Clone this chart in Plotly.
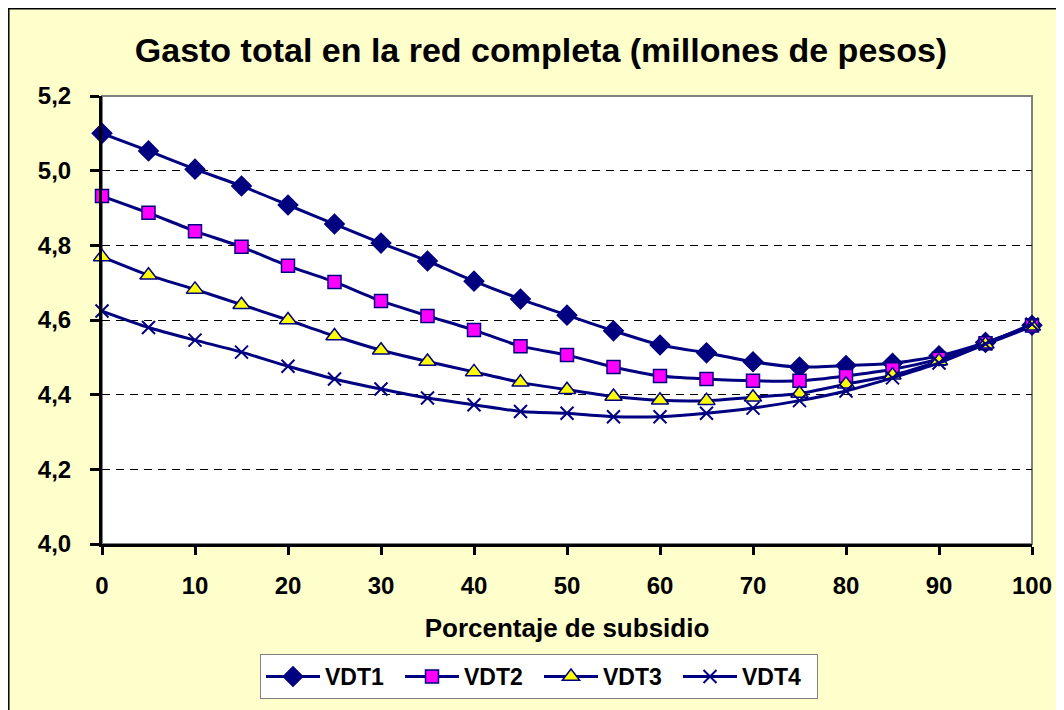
import plotly.graph_objects as go

x_vals = [0, 5, 10, 15, 20, 25, 30, 35, 40, 45, 50, 55, 60, 65, 70, 75, 80, 85, 90, 95, 100]
vdt1 = [5.100, 5.053, 5.004, 4.959, 4.908, 4.857, 4.806, 4.758, 4.704, 4.656, 4.613, 4.571, 4.533, 4.512, 4.488, 4.474, 4.478, 4.484, 4.504, 4.540, 4.586]
vdt2 = [4.932, 4.887, 4.838, 4.796, 4.745, 4.702, 4.651, 4.611, 4.573, 4.530, 4.506, 4.474, 4.450, 4.442, 4.437, 4.437, 4.450, 4.468, 4.496, 4.538, 4.585]
vdt3 = [4.769, 4.720, 4.682, 4.641, 4.600, 4.557, 4.519, 4.489, 4.461, 4.433, 4.413, 4.395, 4.385, 4.384, 4.393, 4.403, 4.428, 4.452, 4.490, 4.535, 4.583]
vdt4 = [4.624, 4.580, 4.546, 4.514, 4.476, 4.442, 4.415, 4.391, 4.373, 4.355, 4.350, 4.341, 4.341, 4.350, 4.364, 4.384, 4.410, 4.445, 4.485, 4.536, 4.589]
series_names = ["VDT1", "VDT2", "VDT3", "VDT4"]

navy = "#000080"
styles = [
    dict(symbol="diamond", color=navy, size=15),
    dict(symbol="square", color="#FF00FF", size=13),
    dict(symbol="triangle-up", color="#FFFF00", size=15),
    dict(symbol="x-thin", color=navy, size=13),
]

fig = go.Figure()
for name, ys, st in zip(series_names, [vdt1, vdt2, vdt3, vdt4], styles):
    fig.add_trace(go.Scatter(
        x=x_vals, y=ys, name=name, mode="lines+markers",
        line=dict(color=navy, width=3, shape="spline", smoothing=0.6),
        marker=dict(symbol=st["symbol"], size=st["size"], color=st["color"],
                    line=dict(color=navy, width=1.5 if st["symbol"] != "x-thin" else 2)),
        cliponaxis=False,
    ))

font_family = "Liberation Sans, Arial, sans-serif"
W, H = 1056, 702
L, R, T, B = 94, 32, 88, 166
PW, PH = W - L - R, H - T - B

fig.update_layout(
    width=W, height=H,
    paper_bgcolor="#FFFFCC", plot_bgcolor="#FFFFFF",
    margin=dict(l=L, r=R, t=T, b=B, autoexpand=False),
    separators=",.",
    font=dict(family=font_family, color="#000000"),
    title=dict(text="<b>Gasto total en la red completa (millones de pesos)</b>",
               x=533 / W, xanchor="center", y=1 - 42 / H, yanchor="middle",
               font=dict(size=34, family=font_family, color="#000000")),
    xaxis=dict(range=[0, 100], dtick=10, tick0=0, showgrid=False, zeroline=False,
               showline=True, linecolor="#000000", linewidth=3,
               ticks="outside", ticklen=8, tickwidth=3, tickcolor="#000000",
               ticklabelstandoff=10,
               tickfont=dict(size=24, family=font_family, weight="bold"),
               title=dict(text="<b>Porcentaje de subsidio</b>", standoff=22,
                          font=dict(size=26, family=font_family))),
    yaxis=dict(range=[4.0, 5.2], dtick=0.2, tick0=4.0, tickformat=".1f",
               showgrid=True, gridcolor="#000000", gridwidth=1, griddash="8px,6px",
               zeroline=False, showline=True, linecolor="#000000", linewidth=3,
               ticks="outside", ticklen=9, tickwidth=3, tickcolor="#000000",
               ticklabelstandoff=14,
               tickfont=dict(size=24, family=font_family, weight="bold")),
    legend=dict(orientation="h", x=(252 - L) / PW, xanchor="left",
                y=(T + PH - 646) / PH, yanchor="top",
                bgcolor="#FFFFFF", bordercolor="#808080", borderwidth=1,
                font=dict(size=23, family=font_family, weight="bold"),
                entrywidth=70, entrywidthmode="pixels", itemwidth=54,
                tracegroupgap=0),
    showlegend=True,
    shapes=[
        # outer chart border (left and top edges)
        dict(type="line", xref="paper", yref="paper",
             x0=-L / PW + 0.8 / PW, x1=-L / PW + 0.8 / PW, y0=-B / PH, y1=1 + T / PH,
             line=dict(color="#000000", width=1.5), layer="below"),
        dict(type="line", xref="paper", yref="paper",
             x0=-L / PW, x1=1 + R / PW, y0=1 + T / PH - 0.8 / PH, y1=1 + T / PH - 0.8 / PH,
             line=dict(color="#000000", width=1.5), layer="below"),
        # plot area border (grey)
        dict(type="rect", xref="paper", yref="paper", x0=0, x1=1, y0=0, y1=1,
             line=dict(color="#808080", width=2), fillcolor="rgba(0,0,0,0)", layer="below"),
    ],
)

fig.write_html("out.html")
